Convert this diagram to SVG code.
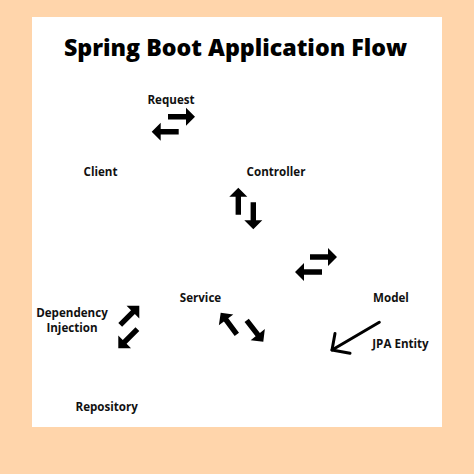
<svg xmlns="http://www.w3.org/2000/svg" xmlns:xlink="http://www.w3.org/1999/xlink" width="474" height="474" viewBox="0 0 474 474">
<style>
.lbl{font-family:"Open Sans","Liberation Sans",sans-serif;font-weight:bold;font-size:11.6px;fill:#111;text-anchor:middle}
.title{font-family:"Open Sans","Liberation Sans",sans-serif;font-weight:800;font-size:23.2px;fill:#000;text-anchor:middle}
.arr{fill:#000}
</style>
<defs>
<path id="arr" d="M-27,-2.7 L-9,-2.7 L-9,-9 L0,0 L-9,9 L-9,2.7 L-27,2.7 Z"/>
</defs>
<rect x="0" y="0" width="474" height="474" fill="#FFD5AB"/>
<rect x="32" y="17" width="410" height="410" fill="#FFFFFF"/>
<text class="title" x="235.5" y="55.5">Spring Boot Application Flow</text>
<g id="request"><text class="lbl" x="171" y="104">Request</text></g>
<g id="client"><text class="lbl" x="100.5" y="175.5">Client</text></g>
<g id="controller"><text class="lbl" x="276" y="175.5">Controller</text></g>
<g id="service"><text class="lbl" x="200.5" y="301.5">Service</text></g>
<g id="model"><text class="lbl" x="391" y="302">Model</text></g>
<g id="jpa-entity"><text class="lbl" x="400.5" y="347.5">JPA Entity</text></g>
<g id="dependency-injection"><text class="lbl" x="72" y="316.5">Dependency</text><text class="lbl" x="72" y="332">Injection</text></g>
<g id="repository"><text class="lbl" x="106.7" y="411">Repository</text></g>
<g id="connectors" class="arr">
<use xlink:href="#arr" transform="translate(195,116.7)"/>
<use xlink:href="#arr" transform="translate(151.7,131.7) rotate(180)"/>
<use xlink:href="#arr" transform="translate(238.3,187.7) rotate(-90)"/>
<use xlink:href="#arr" transform="translate(253.3,229.3) rotate(90)"/>
<use xlink:href="#arr" transform="translate(337,257)"/>
<use xlink:href="#arr" transform="translate(295,272) rotate(180)"/>
<use xlink:href="#arr" transform="translate(139.3,305.7) rotate(-45)"/>
<use xlink:href="#arr" transform="translate(118.3,348.3) rotate(135)"/>
<use xlink:href="#arr" transform="translate(220.7,312.7) rotate(-126.7)"/>
<use xlink:href="#arr" transform="translate(263.3,341.7) rotate(52)"/>
<g fill="none" stroke="#000" stroke-width="3" stroke-linecap="round" stroke-linejoin="round">
<path d="M379.3,322.3 L332,350"/>
<path d="M335,333.5 L332,350 L350,353.3"/>
</g>
</g>
</svg>
